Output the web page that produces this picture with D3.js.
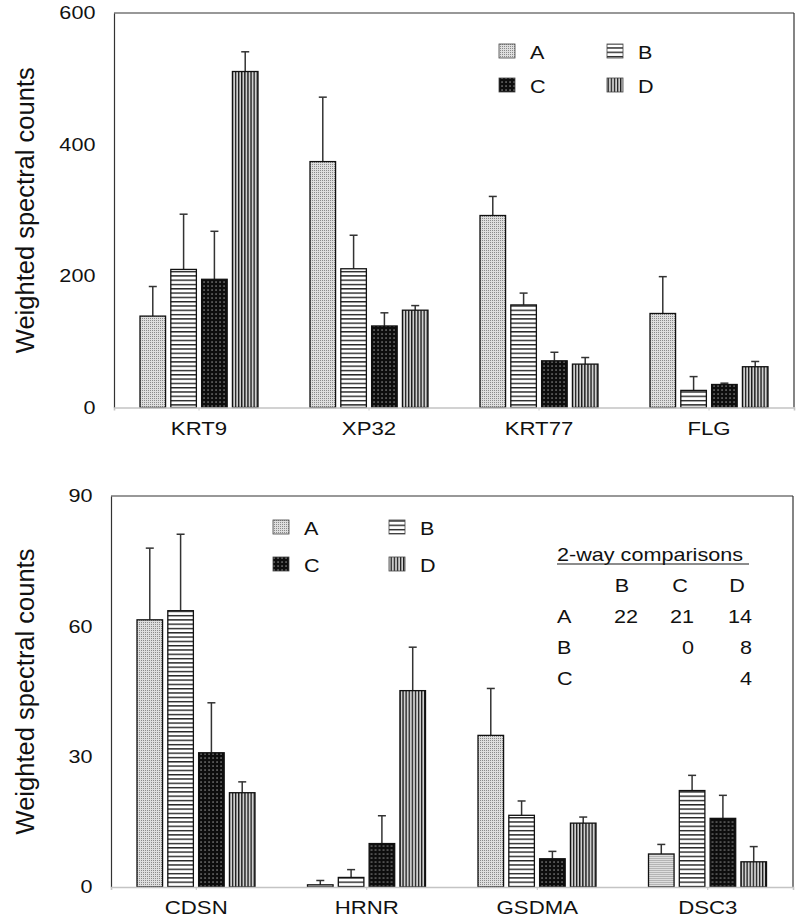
<!DOCTYPE html>
<html>
<head>
<meta charset="utf-8">
<script src="https://cdn.jsdelivr.net/npm/d3@7"></script>
<style>
  html, body { margin: 0; padding: 0; background: #fff; }
  svg { display: block; }
  text { font-family: "Liberation Sans", Arial, sans-serif; fill: #111; }
</style>
</head>
<body>
<svg id="chart" width="800" height="920"></svg>
<script>
// ---------- data ----------
const series = ["A", "B", "C", "D"];

const topCategories = ["KRT9", "XP32", "KRT77", "FLG"];
const topA = [139, 374, 292, 143];
const topB = [210, 211, 156, 26];
const topC = [195, 124, 71, 35];
const topD = [511, 148, 66, 62];
const topErrA = [45, 98, 29, 56];
const topErrB = [84, 51, 18, 21];
const topErrC = [73, 20, 13, 2];
const topErrD = [30, 7, 10, 8];
const topTicks = [0, 200, 400, 600];

const botCategories = ["CDSN", "HRNR", "GSDMA", "DSC3"];
const botA = [61.5, 0.5, 34.9, 7.6];
const botB = [63.6, 2.2, 16.5, 22.2];
const botC = [30.9, 10.0, 6.5, 15.8];
const botD = [21.7, 45.2, 14.7, 5.8];
const botErrA = [16.5, 1.0, 10.8, 2.2];
const botErrB = [17.6, 1.8, 3.3, 3.5];
const botErrC = [11.5, 6.4, 1.7, 5.3];
const botErrD = [2.5, 10.0, 1.4, 3.5];
const botTicks = [0, 30, 60, 90];

const tableTitle = "2-way comparisons";
const tableCols = ["B", "C", "D"];
const tableRows = ["A", "B", "C"];
const tableValues = [["22", "21", "14"], ["", "0", "8"], ["", "", "4"]];

const yTitle = "Weighted spectral counts";

// ---------- setup ----------
const svg = d3.select("#chart");
const SX = 1.2; // horizontal stretch of text as in reference

const defs = svg.append("defs");
const pA = defs.append("pattern").attr("id", "patA").attr("patternUnits", "userSpaceOnUse").attr("width", 2).attr("height", 2);
pA.append("rect").attr("width", 2).attr("height", 2).attr("fill", "#dedede");
pA.append("rect").attr("width", 1).attr("height", 1).attr("fill", "#8a8a8a");
const pB = defs.append("pattern").attr("id", "patB").attr("patternUnits", "userSpaceOnUse").attr("width", 4).attr("height", 4.3);
pB.append("rect").attr("width", 4).attr("height", 4.3).attr("fill", "#fff");
pB.append("rect").attr("y", 0).attr("width", 4).attr("height", 1.4).attr("fill", "#222");
const pC = defs.append("pattern").attr("id", "patC").attr("patternUnits", "userSpaceOnUse").attr("width", 4).attr("height", 4);
pC.append("rect").attr("width", 4).attr("height", 4).attr("fill", "#0d0d0d");
pC.append("rect").attr("x", 1.5).attr("y", 1.5).attr("width", 1.1).attr("height", 1.1).attr("fill", "#d8d8d8");
const pD = defs.append("pattern").attr("id", "patD").attr("patternUnits", "userSpaceOnUse").attr("width", 3.1).attr("height", 4);
pD.append("rect").attr("width", 3.1).attr("height", 4).attr("fill", "#cfcfcf");
pD.append("rect").attr("x", 0).attr("width", 1.3).attr("height", 4).attr("fill", "#1a1a1a");

const fills = { A: "url(#patA)", B: "url(#patB)", C: "url(#patC)", D: "url(#patD)" };

function sText(parent, x, y, str, size, anchor) {
  const g = parent.append("g").attr("transform", `translate(${x},${y}) scale(${SX},1)`);
  g.append("text").attr("text-anchor", anchor || "start").attr("font-size", size).text(str);
  return g;
}

function panel(cfg) {
  const g = svg.append("g");
  const x0 = d3.scaleBand().domain(cfg.categories).range([cfg.left, cfg.right]).paddingInner(0).paddingOuter(0);
  const x1 = d3.scaleBand().domain(series).range([26, 144]).paddingInner(0.17).paddingOuter(0);
  const y = d3.scaleLinear().domain([0, cfg.max]).range([cfg.bottom, cfg.top]);

  const rows = cfg.categories.map((c, i) => ({
    cat: c,
    bars: series.map((s, j) => ({ s, v: cfg.values[j][i], e: cfg.errors[j][i] }))
  }));

  g.append("line").attr("x1", cfg.left).attr("x2", cfg.right).attr("y1", cfg.top).attr("y2", cfg.top)
    .attr("stroke", "#333").attr("stroke-width", 1.2);
  g.append("line").attr("x1", cfg.right).attr("x2", cfg.right).attr("y1", cfg.top).attr("y2", cfg.bottom)
    .attr("stroke", "#333").attr("stroke-width", 1.2);

  const grp = g.selectAll(".grp").data(rows).join("g")
    .attr("transform", d => `translate(${x0(d.cat)},0)`);
  grp.selectAll(".err").data(d => d.bars).join("g").each(function (d) {
    const cx = x1(d.s) + x1.bandwidth() / 2;
    const e = d3.select(this);
    e.append("line").attr("x1", cx).attr("x2", cx).attr("y1", y(d.v)).attr("y2", y(d.v + d.e))
      .attr("stroke", "#333").attr("stroke-width", 1.5);
    e.append("line").attr("x1", cx - 4).attr("x2", cx + 4).attr("y1", y(d.v + d.e)).attr("y2", y(d.v + d.e))
      .attr("stroke", "#333").attr("stroke-width", 1.5);
  });
  grp.selectAll("rect").data(d => d.bars).join("rect")
    .attr("x", d => x1(d.s))
    .attr("y", d => y(d.v))
    .attr("width", x1.bandwidth())
    .attr("height", d => y(0) - y(d.v))
    .attr("fill", d => fills[d.s])
    .attr("stroke", "#111").attr("stroke-width", 1.3);

  const ya = g.append("g").attr("transform", `translate(${cfg.left},0)`)
    .call(d3.axisLeft(y).tickValues(cfg.ticks).tickSize(0).tickPadding(15.5));
  ya.select(".domain").attr("stroke", "#333").attr("stroke-width", 1.2);
  ya.selectAll("text").attr("font-size", 18).attr("fill", "#2a2a2a")
    .attr("font-family", "'Liberation Sans', Arial, sans-serif")
    .attr("transform", `scale(${SX},1)`);

  const xa = g.append("g").attr("transform", `translate(0,${cfg.bottom})`)
    .call(d3.axisBottom(x0).tickSize(3).tickPadding(0));
  xa.select(".domain").attr("stroke", "#c4c4c4").attr("stroke-width", 1.6);
  xa.selectAll(".tick line").attr("stroke", "#c4c4c4");
  xa.selectAll("text").remove();
  cfg.categories.forEach(c => {
    sText(g, x0(c) + x0.bandwidth() / 2, cfg.bottom + 27, c, 18.5, "middle");
  });

  g.append("text")
    .attr("transform", `translate(34,${(cfg.top + cfg.bottom) / 2}) rotate(-90)`)
    .attr("text-anchor", "middle").attr("font-size", 25.5).attr("fill", "#111")
    .text(yTitle);

  const L = cfg.legend;
  series.forEach((s, i) => {
    const col = i % 2, row = Math.floor(i / 2);
    const lx = L.x + col * L.dx, ly = L.y + row * L.dy;
    g.append("rect").attr("x", lx).attr("y", ly).attr("width", 16).attr("height", 14)
      .attr("fill", fills[s]).attr("stroke", "#444").attr("stroke-width", 0.8);
    sText(g, lx + 31, ly + 14.5, s, 18, "start");
  });
  return g;
}

panel({
  categories: topCategories,
  values: [topA, topB, topC, topD],
  errors: [topErrA, topErrB, topErrC, topErrD],
  ticks: topTicks, max: 600,
  left: 114, right: 794, top: 13, bottom: 407.5,
  legend: { x: 499, y: 44, dx: 108, dy: 34 }
});

const bot = panel({
  categories: botCategories,
  values: [botA, botB, botC, botD],
  errors: [botErrA, botErrB, botErrC, botErrD],
  ticks: botTicks, max: 90,
  left: 111, right: 793, top: 496, bottom: 887,
  legend: { x: 273, y: 520, dx: 116, dy: 37 }
});

sText(bot, 557, 561, tableTitle, 18, "start");
bot.append("line").attr("x1", 557).attr("x2", 749).attr("y1", 564).attr("y2", 564)
  .attr("stroke", "#1a1a1a").attr("stroke-width", 1.2);
const colCenters = [622, 680, 737];
const colRights = [638, 694, 752];
tableCols.forEach((c, i) => sText(bot, colCenters[i], 592, c, 18, "middle"));
tableRows.forEach((r, ri) => {
  const by = 623 + ri * 31;
  sText(bot, 557, by, r, 18, "start");
  tableValues[ri].forEach((v, ci) => { if (v !== "") sText(bot, colRights[ci], by, v, 18, "end"); });
});
</script>
</body>
</html>
